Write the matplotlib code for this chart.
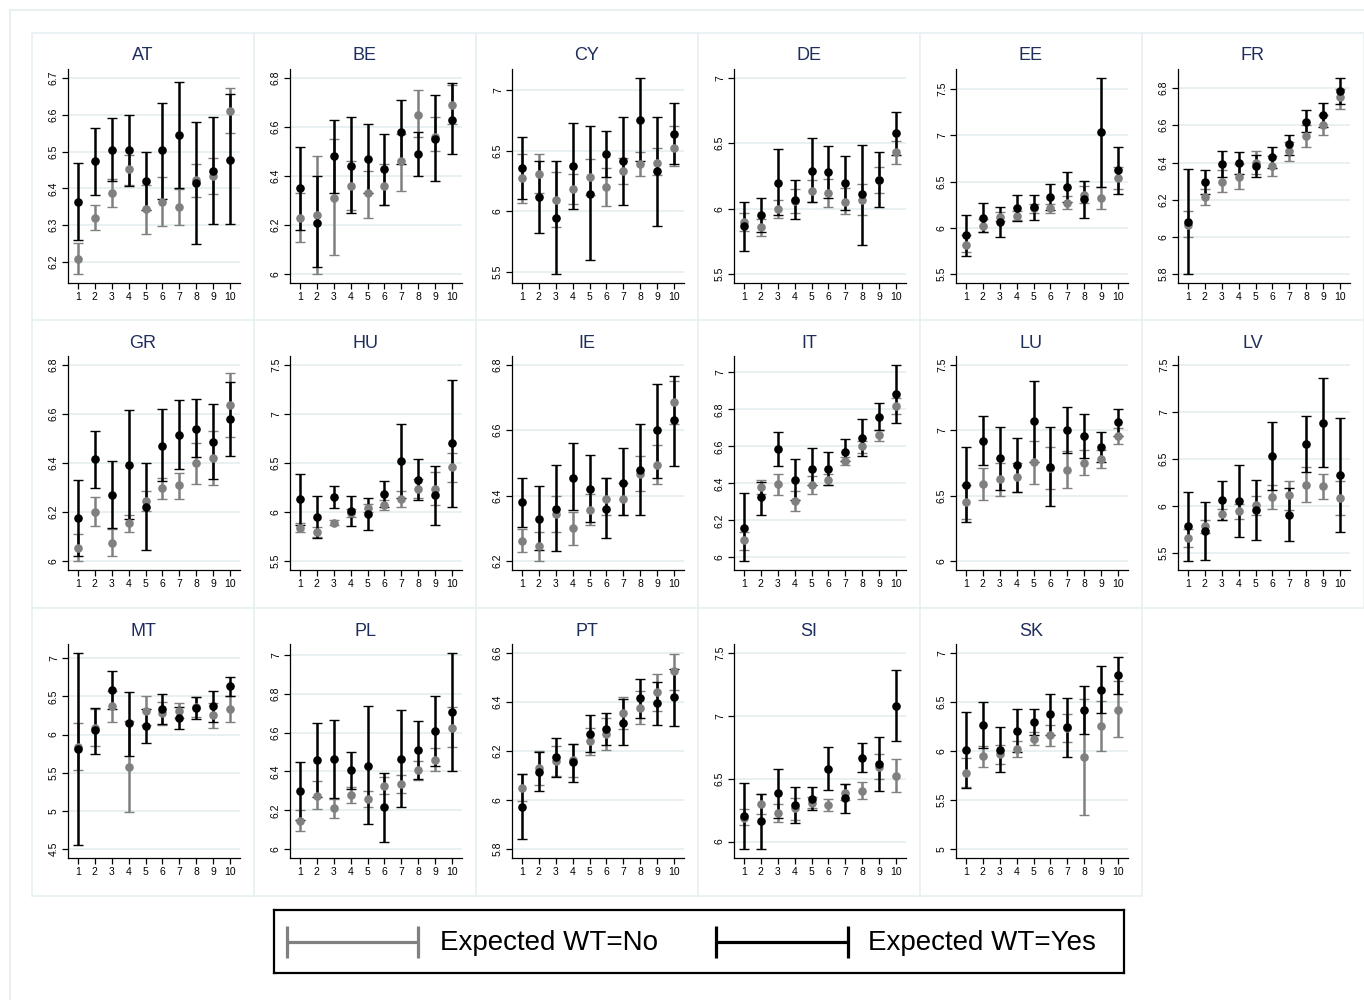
import numpy as np
import matplotlib
matplotlib.use('Agg')
import matplotlib.pyplot as plt
from matplotlib.patches import Rectangle

# deciles 1..10, mean with 95% CI, by expected working time (No / Yes)
groups = np.arange(1, 11)
countries = ['AT', 'BE', 'CY', 'DE', 'EE', 'FR',
             'GR', 'HU', 'IE', 'IT', 'LU', 'LV',
             'MT', 'PL', 'PT', 'SI', 'SK']

yes_mean = {
    'AT': [6.362, 6.474, 6.505, 6.503, 6.42, 6.503, 6.545, 6.415, 6.447, 6.478],
    'BE': [6.35, 6.21, 6.48, 6.44, 6.47, 6.43, 6.58, 6.49, 6.55, 6.63],
    'CY': [6.355, 6.115, 5.945, 6.37, 6.145, 6.47, 6.41, 6.755, 6.33, 6.64],
    'DE': [5.87, 5.95, 6.20, 6.07, 6.29, 6.28, 6.20, 6.11, 6.22, 6.575],
    'EE': [5.92, 6.11, 6.06, 6.21, 6.22, 6.33, 6.44, 6.31, 7.03, 6.62],
    'FR': [6.08, 6.295, 6.39, 6.396, 6.38, 6.43, 6.50, 6.62, 6.655, 6.785],
    'GR': [6.175, 6.415, 6.27, 6.39, 6.22, 6.47, 6.515, 6.54, 6.485, 6.58],
    'HU': [6.13, 5.945, 6.155, 6.01, 5.98, 6.185, 6.52, 6.33, 6.17, 6.70],
    'IE': [6.38, 6.33, 6.36, 6.455, 6.42, 6.36, 6.44, 6.48, 6.60, 6.63],
    'IT': [6.16, 6.325, 6.585, 6.42, 6.48, 6.48, 6.57, 6.645, 6.76, 6.88],
    'LU': [6.58, 6.92, 6.785, 6.735, 7.07, 6.72, 7.005, 6.96, 6.87, 7.06],
    'LV': [5.78, 5.73, 6.06, 6.055, 5.955, 6.53, 5.905, 6.66, 6.885, 6.33],
    'MT': [5.815, 6.055, 6.585, 6.145, 6.115, 6.335, 6.22, 6.345, 6.37, 6.63],
    'PL': [6.30, 6.46, 6.465, 6.405, 6.43, 6.215, 6.465, 6.51, 6.61, 6.705],
    'PT': [5.97, 6.115, 6.175, 6.155, 6.27, 6.29, 6.315, 6.415, 6.395, 6.42],
    'SI': [6.20, 6.165, 6.385, 6.29, 6.34, 6.575, 6.345, 6.665, 6.615, 7.08],
    'SK': [6.01, 6.26, 6.015, 6.205, 6.295, 6.375, 6.24, 6.42, 6.625, 6.77],
}
yes_lo = {
    'AT': [6.259, 6.383, 6.42, 6.407, 6.34, 6.372, 6.40, 6.249, 6.303, 6.304],
    'BE': [6.18, 6.03, 6.33, 6.25, 6.33, 6.28, 6.45, 6.40, 6.38, 6.49],
    'CY': [6.10, 5.82, 5.48, 6.02, 5.60, 6.28, 6.05, 6.41, 5.88, 6.39],
    'DE': [5.68, 5.82, 5.95, 5.92, 6.05, 6.08, 5.99, 5.72, 6.01, 6.41],
    'EE': [5.70, 5.95, 5.90, 6.07, 6.08, 6.19, 6.28, 6.11, 6.44, 6.37],
    'FR': [5.80, 6.23, 6.32, 6.34, 6.32, 6.37, 6.44, 6.565, 6.59, 6.715],
    'GR': [6.02, 6.30, 6.135, 6.17, 6.045, 6.325, 6.375, 6.425, 6.335, 6.43],
    'HU': [5.87, 5.74, 6.04, 5.86, 5.82, 6.05, 6.14, 6.12, 5.87, 6.05],
    'IE': [6.305, 6.235, 6.23, 6.355, 6.32, 6.27, 6.34, 6.34, 6.455, 6.49],
    'IT': [5.98, 6.23, 6.495, 6.31, 6.39, 6.39, 6.52, 6.55, 6.69, 6.725],
    'LU': [6.30, 6.735, 6.54, 6.525, 6.76, 6.42, 6.83, 6.79, 6.755, 6.96],
    'LV': [5.41, 5.42, 5.85, 5.67, 5.63, 6.17, 5.625, 6.36, 6.41, 5.725],
    'MT': [4.56, 5.745, 6.34, 5.725, 5.89, 6.14, 6.075, 6.205, 6.17, 6.505],
    'PL': [6.15, 6.27, 6.265, 6.31, 6.13, 6.035, 6.215, 6.36, 6.43, 6.40],
    'PT': [5.84, 6.035, 6.095, 6.075, 6.195, 6.225, 6.225, 6.335, 6.305, 6.30],
    'SI': [5.94, 5.945, 6.19, 6.15, 6.25, 6.41, 6.225, 6.55, 6.40, 6.80],
    'SK': [5.625, 6.03, 5.79, 5.985, 6.165, 6.16, 5.935, 6.17, 6.39, 6.585],
}
yes_hi = {
    'AT': [6.468, 6.564, 6.59, 6.598, 6.50, 6.632, 6.69, 6.581, 6.594, 6.655],
    'BE': [6.52, 6.40, 6.63, 6.64, 6.61, 6.57, 6.71, 6.58, 6.73, 6.78],
    'CY': [6.61, 6.41, 6.41, 6.73, 6.70, 6.66, 6.78, 7.10, 6.78, 6.89],
    'DE': [6.05, 6.08, 6.46, 6.22, 6.54, 6.48, 6.40, 6.49, 6.43, 6.74],
    'EE': [6.14, 6.27, 6.22, 6.35, 6.36, 6.47, 6.60, 6.51, 7.62, 6.87],
    'FR': [6.365, 6.36, 6.46, 6.455, 6.44, 6.485, 6.55, 6.68, 6.72, 6.855],
    'GR': [6.33, 6.53, 6.41, 6.615, 6.40, 6.62, 6.655, 6.66, 6.64, 6.73],
    'HU': [6.39, 6.16, 6.27, 6.16, 6.14, 6.32, 6.90, 6.54, 6.47, 7.35],
    'IE': [6.455, 6.43, 6.495, 6.56, 6.525, 6.455, 6.545, 6.62, 6.74, 6.765],
    'IT': [6.35, 6.41, 6.675, 6.53, 6.59, 6.57, 6.64, 6.745, 6.835, 7.04],
    'LU': [6.87, 7.11, 7.025, 6.94, 7.38, 7.025, 7.18, 7.125, 6.985, 7.16],
    'LV': [6.15, 6.035, 6.26, 6.43, 6.27, 6.895, 6.185, 6.96, 7.365, 6.935],
    'MT': [7.07, 6.35, 6.835, 6.56, 6.34, 6.53, 6.365, 6.49, 6.57, 6.755],
    'PL': [6.45, 6.65, 6.665, 6.50, 6.735, 6.39, 6.715, 6.66, 6.79, 7.01],
    'PT': [6.105, 6.195, 6.255, 6.23, 6.345, 6.355, 6.41, 6.495, 6.48, 6.535],
    'SI': [6.465, 6.38, 6.575, 6.43, 6.43, 6.75, 6.46, 6.78, 6.83, 7.365],
    'SK': [6.395, 6.495, 6.24, 6.425, 6.43, 6.585, 6.54, 6.665, 6.865, 6.96],
}
no_mean = {
    'AT': [6.208, 6.32, 6.388, 6.452, 6.344, 6.363, 6.349, 6.423, 6.434, 6.611],
    'BE': [6.23, 6.24, 6.31, 6.36, 6.33, 6.36, 6.46, 6.65, 6.56, 6.69],
    'CY': [6.27, 6.31, 6.09, 6.185, 6.28, 6.20, 6.33, 6.39, 6.40, 6.525],
    'DE': [5.90, 5.86, 6.00, 6.06, 6.135, 6.12, 6.055, 6.07, 6.22, 6.43],
    'EE': [5.82, 6.02, 6.12, 6.13, 6.21, 6.21, 6.27, 6.36, 6.32, 6.54],
    'FR': [6.066, 6.216, 6.295, 6.32, 6.40, 6.38, 6.46, 6.54, 6.60, 6.75],
    'GR': [6.055, 6.20, 6.075, 6.155, 6.245, 6.30, 6.31, 6.40, 6.42, 6.635],
    'HU': [5.84, 5.80, 5.89, 5.99, 6.04, 6.07, 6.13, 6.24, 6.24, 6.455],
    'IE': [6.263, 6.245, 6.345, 6.30, 6.355, 6.39, 6.39, 6.465, 6.495, 6.685],
    'IT': [6.095, 6.38, 6.395, 6.305, 6.39, 6.42, 6.52, 6.60, 6.66, 6.82],
    'LU': [6.45, 6.59, 6.63, 6.64, 6.755, 6.71, 6.70, 6.75, 6.78, 6.955],
    'LV': [5.66, 5.78, 5.91, 5.94, 6.005, 6.095, 6.11, 6.225, 6.205, 6.085],
    'MT': [5.84, 6.09, 6.37, 5.58, 6.31, 6.28, 6.31, 6.36, 6.25, 6.335],
    'PL': [6.145, 6.275, 6.21, 6.28, 6.26, 6.325, 6.335, 6.405, 6.46, 6.625],
    'PT': [6.05, 6.13, 6.16, 6.165, 6.24, 6.27, 6.355, 6.375, 6.44, 6.525],
    'SI': [6.19, 6.295, 6.225, 6.265, 6.31, 6.29, 6.39, 6.405, 6.595, 6.525],
    'SK': [5.78, 5.945, 5.965, 6.02, 6.12, 6.16, 6.235, 5.935, 6.255, 6.42],
}
no_lo = {
    'AT': [6.167, 6.288, 6.35, 6.41, 6.277, 6.298, 6.30, 6.377, 6.385, 6.549],
    'BE': [6.13, 6.00, 6.08, 6.26, 6.23, 6.28, 6.34, 6.56, 6.50, 6.61],
    'CY': [6.07, 6.15, 5.87, 6.06, 6.13, 6.04, 6.22, 6.29, 6.30, 6.37],
    'DE': [5.83, 5.79, 5.93, 5.97, 6.05, 6.01, 5.96, 5.95, 6.12, 6.34],
    'EE': [5.74, 5.95, 6.07, 6.08, 6.16, 6.16, 6.20, 6.27, 6.20, 6.42],
    'FR': [6.00, 6.17, 6.24, 6.26, 6.34, 6.325, 6.41, 6.485, 6.55, 6.69],
    'GR': [6.00, 6.145, 6.02, 6.12, 6.205, 6.255, 6.255, 6.315, 6.31, 6.505],
    'HU': [5.80, 5.75, 5.87, 5.95, 6.00, 6.02, 6.055, 6.14, 6.07, 6.31],
    'IE': [6.228, 6.20, 6.29, 6.25, 6.31, 6.34, 6.34, 6.415, 6.437, 6.62],
    'IT': [6.04, 6.34, 6.335, 6.25, 6.34, 6.39, 6.50, 6.565, 6.63, 6.775],
    'LU': [6.32, 6.47, 6.50, 6.53, 6.59, 6.55, 6.56, 6.655, 6.71, 6.895],
    'LV': [5.565, 5.71, 5.85, 5.86, 5.905, 5.965, 5.955, 6.035, 6.07, 5.90],
    'MT': [5.54, 5.85, 6.17, 4.98, 6.12, 6.13, 6.215, 6.23, 6.09, 6.16],
    'PL': [6.095, 6.205, 6.16, 6.235, 6.215, 6.285, 6.29, 6.355, 6.40, 6.525],
    'PT': [5.995, 6.06, 6.10, 6.095, 6.185, 6.205, 6.29, 6.31, 6.365, 6.45],
    'SI': [6.13, 6.22, 6.155, 6.175, 6.265, 6.245, 6.33, 6.34, 6.50, 6.395],
    'SK': [5.63, 5.835, 5.87, 5.935, 6.06, 6.055, 6.09, 5.35, 6.00, 6.145],
}
no_hi = {
    'AT': [6.251, 6.355, 6.425, 6.49, 6.41, 6.43, 6.397, 6.467, 6.483, 6.672],
    'BE': [6.33, 6.48, 6.55, 6.46, 6.42, 6.45, 6.57, 6.75, 6.64, 6.77],
    'CY': [6.47, 6.47, 6.32, 6.31, 6.43, 6.36, 6.44, 6.49, 6.52, 6.70],
    'DE': [5.97, 5.92, 6.07, 6.15, 6.22, 6.23, 6.16, 6.19, 6.32, 6.52],
    'EE': [5.92, 6.10, 6.17, 6.18, 6.26, 6.26, 6.34, 6.45, 6.44, 6.66],
    'FR': [6.14, 6.26, 6.36, 6.39, 6.46, 6.435, 6.51, 6.60, 6.655, 6.795],
    'GR': [6.11, 6.26, 6.13, 6.19, 6.285, 6.34, 6.36, 6.48, 6.53, 6.765],
    'HU': [5.89, 5.85, 5.915, 6.03, 6.085, 6.12, 6.21, 6.34, 6.41, 6.60],
    'IE': [6.297, 6.29, 6.40, 6.35, 6.405, 6.455, 6.44, 6.52, 6.555, 6.75],
    'IT': [6.135, 6.42, 6.45, 6.36, 6.44, 6.45, 6.54, 6.63, 6.69, 6.86],
    'LU': [6.58, 6.71, 6.75, 6.75, 6.915, 6.875, 6.845, 6.85, 6.85, 7.02],
    'LV': [5.75, 5.85, 5.97, 6.02, 6.10, 6.225, 6.26, 6.41, 6.34, 6.265],
    'MT': [6.145, 6.33, 6.57, 6.18, 6.50, 6.43, 6.41, 6.49, 6.41, 6.51],
    'PL': [6.20, 6.35, 6.26, 6.32, 6.30, 6.37, 6.38, 6.455, 6.52, 6.73],
    'PT': [6.105, 6.20, 6.22, 6.23, 6.295, 6.335, 6.42, 6.445, 6.515, 6.595],
    'SI': [6.26, 6.375, 6.30, 6.35, 6.355, 6.335, 6.455, 6.475, 6.695, 6.66],
    'SK': [5.93, 6.055, 6.06, 6.10, 6.19, 6.265, 6.38, 6.525, 6.51, 6.71],
}

yticks = {
    'AT': [6.2, 6.3, 6.4, 6.5, 6.6, 6.7],
    'BE': [6.0, 6.2, 6.4, 6.6, 6.8],
    'CY': [5.5, 6.0, 6.5, 7.0],
    'DE': [5.5, 6.0, 6.5, 7.0],
    'EE': [5.5, 6.0, 6.5, 7.0, 7.5],
    'FR': [5.8, 6.0, 6.2, 6.4, 6.6, 6.8],
    'GR': [6.0, 6.2, 6.4, 6.6, 6.8],
    'HU': [5.5, 6.0, 6.5, 7.0, 7.5],
    'IE': [6.2, 6.4, 6.6, 6.8],
    'IT': [6.0, 6.2, 6.4, 6.6, 6.8, 7.0],
    'LU': [6.0, 6.5, 7.0, 7.5],
    'LV': [5.5, 6.0, 6.5, 7.0, 7.5],
    'MT': [4.5, 5.0, 5.5, 6.0, 6.5, 7.0],
    'PL': [6.0, 6.2, 6.4, 6.6, 6.8, 7.0],
    'PT': [5.8, 6.0, 6.2, 6.4, 6.6],
    'SI': [6.0, 6.5, 7.0, 7.5],
    'SK': [5.0, 5.5, 6.0, 6.5, 7.0],
}

legend_labels = ['Expected WT=No', 'Expected WT=Yes']

GRAY = '#808080'
BLACK = '#000000'
FRAME = '#e8f0f1'
GRID = '#e8f0f2'
TITLE = '#1f2d5c'

W, H = 1364, 1000
plt.rcParams['font.family'] = ['Liberation Sans', 'DejaVu Sans']

fig = plt.figure(figsize=(W / 100, H / 100), dpi=100)
fig.patch.set_facecolor('white')


def fx(px):
    return px / W


def fy(py):
    return 1 - py / H


# outer frame
fig.add_artist(Rectangle((fx(10), fy(1005)), 1360 / W, 995 / H, transform=fig.transFigure,
                         facecolor='none', edgecolor=FRAME, lw=1.5, zorder=-10))

row_top = [33, 320, 608]
for i, c in enumerate(countries):
    r, col = divmod(i, 6)
    px0 = 32 + 222 * col
    py0 = row_top[r]
    # panel background (behind the axes)
    fig.add_artist(Rectangle((fx(px0), fy(py0 + 288)), 222 / W, 288 / H, transform=fig.transFigure,
                             facecolor='white', edgecolor=FRAME, lw=1.2, zorder=-5))
    fig.text(fx(px0 + 111), fy(py0 + 23), c, ha='center', va='center', fontsize=13, color=TITLE)

    ax = fig.add_axes([fx(px0 + 36), fy(py0 + 36 + 214), 172 / W, 214 / H])
    ax.set_facecolor('none')

    nm, nl, nh = np.array(no_mean[c]), np.array(no_lo[c]), np.array(no_hi[c])
    ym, yl, yh = np.array(yes_mean[c]), np.array(yes_lo[c]), np.array(yes_hi[c])

    ax.errorbar(groups, nm, yerr=[nm - nl, nh - nm], fmt='none', ecolor=GRAY,
                elinewidth=1.8, capsize=3.8, capthick=1.0, zorder=2)
    ax.errorbar(groups, ym, yerr=[ym - yl, yh - ym], fmt='none', ecolor=BLACK,
                elinewidth=1.8, capsize=3.8, capthick=1.0, zorder=3)
    ax.plot(groups, nm, 'o', color=GRAY, ms=6.2, mec='none', zorder=4)
    ax.plot(groups, ym, 'o', color=BLACK, ms=6.2, mec='none', zorder=5)

    ticks = yticks[c]
    lo = min(nl.min(), yl.min(), ticks[0])
    hi = max(nh.max(), yh.max(), ticks[-1])
    pad = 0.045 * (hi - lo)
    ax.set_ylim(lo - pad, hi + pad)
    ax.set_xlim(0.41, 10.59)

    ax.set_yticks(ticks)
    ax.set_yticklabels(['%g' % t for t in ticks], rotation=90, va='center')
    ax.set_xticks(groups)
    ax.set_xticklabels([str(g) for g in groups])
    ax.yaxis.grid(True, color=GRID, lw=1.4)
    ax.set_axisbelow(True)

    for s in ['top', 'right']:
        ax.spines[s].set_visible(False)
    for s in ['left', 'bottom']:
        ax.spines[s].set_linewidth(0.9)
    ax.tick_params(direction='out', length=4, width=0.9, labelsize=7.5, pad=2.5, colors='black')

# legend box
lax = fig.add_axes([fx(274), fy(973), 850 / W, 63 / H])
lax.set_xlim(274, 1124)
lax.set_ylim(973, 910)
lax.set_xticks([])
lax.set_yticks([])
for s in lax.spines.values():
    s.set_linewidth(1.6)
lax.errorbar([352.5], [942], xerr=[65.5], fmt='none', ecolor=GRAY, elinewidth=2.3,
             capsize=11.5, capthick=2.3)
lax.errorbar([782], [942], xerr=[66], fmt='none', ecolor=BLACK, elinewidth=2.3,
             capsize=11.5, capthick=2.3)
lax.text(440, 943, legend_labels[0], ha='left', va='center', fontsize=20)
lax.text(868, 943, legend_labels[1], ha='left', va='center', fontsize=20)

fig.savefig('out.png', dpi=100)
